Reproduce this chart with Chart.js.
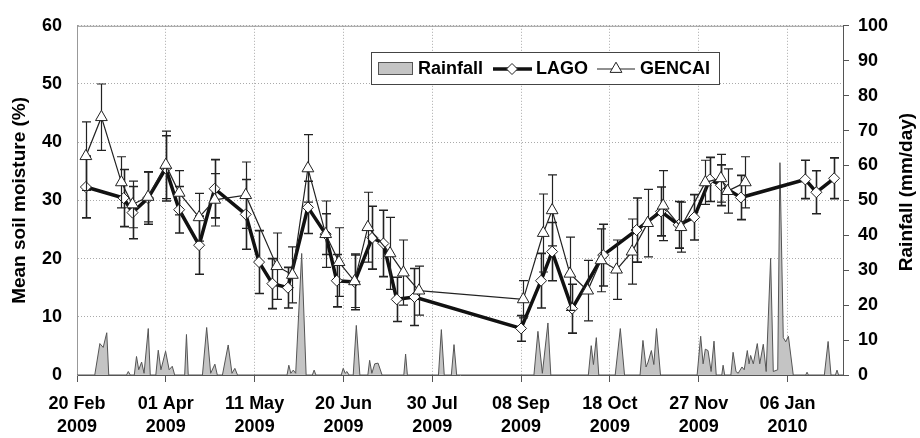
<!DOCTYPE html>
<html>
<head>
<meta charset="utf-8">
<script src="https://cdn.jsdelivr.net/npm/chart.js@4.4.0/dist/chart.umd.min.js"></script>
<style>
    html, body { margin: 0; padding: 0; background: #fff; }
    #wrap { width: 920px; height: 438px; position: relative; }
</style>
</head>
<body>
<div id="wrap"><canvas id="grafico"></canvas></div>
<script>
// dias contados desde el 20 Feb 2009, una etiqueta cada 40 dias
const etiquetasX = [['20 Feb', '2009'], ['01 Apr', '2009'], ['11 May', '2009'], ['20 Jun', '2009'],
    ['30 Jul', '2009'], ['08 Sep', '2009'], ['18 Oct', '2009'], ['27 Nov', '2009'], ['06 Jan', '2010']];

const lagoDias = [4, 21, 25, 32, 40, 46, 55, 62, 76, 82, 88, 95, 104, 112, 117, 125, 133, 138, 144, 152,
    200, 209, 214, 223, 237, 252, 263, 271, 278, 285, 290, 299, 328, 333, 341];
const lagoValores = [32.3, 30.4, 27.9, 30.4, 35.5, 28.4, 22.3, 32.0, 27.6, 19.4, 15.7, 15.0, 28.8, 24.2, 16.2, 16.0, 23.6, 22.6, 13.0, 13.4,
    8.0, 16.2, 21.2, 11.4, 20.6, 24.9, 28.1, 25.8, 27.1, 33.6, 32.6, 30.5, 33.6, 31.4, 33.8];
const lagoError = [5.3, 4.9, 4.5, 4.5, 5.6, 4.0, 5.0, 5.0, 6.0, 5.4, 4.3, 3.5, 4.5, 3.5, 4.5, 4.8, 5.4, 5.7, 3.8, 4.9,
    2.2, 4.7, 5.0, 4.2, 5.3, 5.5, 4.2, 4.0, 3.9, 3.8, 3.5, 3.8, 3.3, 3.7, 3.5];

const gencaiDias = [4, 11, 20, 25, 32, 40, 46, 55, 62, 76, 90, 97, 104, 112, 118, 125, 131, 141, 147, 154,
    201, 210, 214, 222, 230, 236, 243, 250, 257, 264, 272, 283, 290, 293, 301];
const gencaiValores = [37.6, 44.3, 33.1, 29.3, 30.6, 36.1, 31.3, 27.1, 30.1, 30.9, 18.7, 17.2, 35.5, 24.2, 19.4, 16.1, 25.4, 20.9, 17.6, 14.5,
    13.0, 24.4, 28.3, 17.4, 14.5, 19.7, 18.1, 21.2, 26.1, 29.1, 25.4, 33.1, 33.8, 31.6, 33.1];
const gencaiError = [5.9, 5.7, 4.4, 4.0, 4.3, 5.8, 3.8, 4.1, 4.5, 5.7, 5.7, 4.8, 5.8, 5.7, 5.9, 4.5, 6.0, 6.2, 5.6, 4.2,
    3.2, 6.7, 6.1, 6.3, 5.2, 5.4, 5.1, 5.6, 5.8, 6.0, 4.3, 3.8, 4.1, 3.8, 4.4];

// lluvia diaria [dia, mm/dia]
const lluvia = [[0, 0], [8, 0], [10.3, 9.0], [11.8, 7.9], [13.4, 12.1], [14.3, 0],
    [22.3, 0], [23.1, 1.0], [24, 0],
    [25.8, 0], [26.8, 5.3], [27.8, 1.5], [29.1, 3.7], [30.2, 0.5], [32.1, 13.3], [33, 0],
    [35.5, 0], [36.6, 7.1], [37.8, 1.5], [39.9, 6.8], [41.5, 1.5], [42.9, 2.5], [44, 0],
    [48.5, 0], [49.3, 11.6], [50.1, 0],
    [56.5, 0], [58.4, 13.6], [60.2, 0.5], [62.1, 3.1], [63.2, 0],
    [65.5, 0], [68.1, 8.6], [69.8, 0.5], [71.1, 1.9], [72.3, 0],
    [94.6, 0], [95.4, 2.8], [96.3, 0.5], [97.4, 1.4], [98.5, 0.5], [101.2, 34.8], [103.2, 0],
    [106, 0], [106.8, 1.4], [107.6, 0],
    [119, 0], [119.9, 1.9], [120.8, 0.5], [121.6, 1.0], [122.5, 0],
    [124.4, 0], [125.8, 14.2], [127.4, 0],
    [131, 0], [131.8, 4.2], [132.8, 0.5], [134.1, 3.2], [135.6, 3.4], [137.4, 0],
    [147.2, 0], [148, 6.0], [148.8, 0],
    [162.8, 0], [164.1, 13.0], [165.4, 0],
    [168.6, 0], [169.8, 8.7], [171, 0],
    [205.8, 0], [207.6, 12.5], [209.6, 0.5], [212.1, 14.9], [213.4, 0],
    [230.3, 0], [231.6, 8.4], [232.6, 3.0], [233.9, 10.7], [235, 0],
    [242.4, 0], [244.7, 13.3], [246.6, 0],
    [253.6, 0], [254.9, 9.9], [256.3, 2.3], [257.2, 3.7], [258.7, 7.0], [259.8, 3.0], [261, 13.3], [262.8, 0],
    [279.3, 0], [280.9, 11.1], [282, 3.2], [283, 7.4], [284.2, 7.0], [285.6, 1.0], [286.9, 9.7], [287.9, 0],
    [290.4, 0], [291, 2.8], [291.7, 0],
    [294.5, 0], [295.5, 6.5], [296.8, 1.0], [297.8, 0.5], [299.5, 2.3], [300.5, 1.5], [301.9, 7.0], [302.7, 3.2],
    [303.4, 5.6], [304.6, 3.2], [306.4, 9.0], [307.5, 3.2], [309.1, 8.8], [310.4, 1.0], [312.4, 33.4], [313.6, 1.0],
    [315.6, 1.5], [316.6, 60.8], [318.1, 10.7], [319.2, 9.5], [320.4, 11.1], [322.6, 0],
    [328.2, 0], [328.8, 0.8], [329.4, 0],
    [336.6, 0], [338.3, 9.6], [339.6, 0],
    [341.6, 0], [342.3, 1.4], [343, 0], [345, 0]];

const fuente = "'Liberation Sans', Arial, sans-serif";
const errores = { LAGO: lagoError, GENCAI: gencaiError };

function puntos(dias, valores) {
    return dias.map((d, i) => ({ x: d, y: valores[i] }));
}

// barras de error, dibujadas justo antes de cada serie
const barrasError = {
    id: 'barrasError',
    beforeDatasetDraw(chart, args) {
        let ds = chart.data.datasets[args.index];
        let err = errores[ds.label];
        if (!err) return;
        let sx = chart.scales.x, sy = chart.scales.y;
        let ctx = chart.ctx;
        ctx.save();
        ctx.strokeStyle = '#222';
        ctx.lineWidth = ds.label === 'LAGO' ? 1.6 : 1.2;
        ds.data.forEach((p, i) => {
            let px = Math.round(sx.getPixelForValue(p.x)) + 0.5;
            let arriba = sy.getPixelForValue(p.y + err[i]);
            let abajo = sy.getPixelForValue(p.y - err[i]);
            ctx.beginPath();
            ctx.moveTo(px, arriba); ctx.lineTo(px, abajo);
            ctx.moveTo(px - 4.5, arriba); ctx.lineTo(px + 4.5, arriba);
            ctx.moveTo(px - 4.5, abajo); ctx.lineTo(px + 4.5, abajo);
            ctx.stroke();
        });
        ctx.restore();
    }
};

// marco superior, titulo derecho y leyenda
const extras = {
    id: 'extras',
    beforeDatasetsDraw(chart) {
        let { ctx, chartArea } = chart;
        ctx.save();
        ctx.strokeStyle = '#999';
        ctx.lineWidth = 1;
        ctx.beginPath();
        ctx.moveTo(chartArea.left, chartArea.top + 0.5);
        ctx.lineTo(chartArea.right, chartArea.top + 0.5);
        ctx.stroke();
        ctx.restore();
    },
    afterDraw(chart) {
        let ctx = chart.ctx;
        ctx.save();
        ctx.fillStyle = '#000';
        ctx.font = 'bold 19px ' + fuente;
        ctx.textAlign = 'center';
        ctx.textBaseline = 'middle';
        ctx.translate(907, 192);
        ctx.rotate(-Math.PI / 2);
        ctx.fillText('Rainfall (mm/day)', 0, 0);
        ctx.restore();

        ctx.save();
        ctx.fillStyle = '#fff';
        ctx.strokeStyle = '#444';
        ctx.lineWidth = 1;
        ctx.fillRect(371, 52, 348, 32);
        ctx.strokeRect(371.5, 52.5, 348, 32);
        let yc = 69;
        // lluvia
        ctx.fillStyle = '#c4c4c4';
        ctx.fillRect(378, 62, 34, 12);
        ctx.strokeStyle = '#555';
        ctx.strokeRect(378.5, 62.5, 34, 12);
        // LAGO
        ctx.strokeStyle = '#111';
        ctx.lineWidth = 3.5;
        ctx.beginPath(); ctx.moveTo(493, yc); ctx.lineTo(532, yc); ctx.stroke();
        ctx.lineWidth = 1;
        ctx.fillStyle = '#fff';
        ctx.strokeStyle = '#222';
        ctx.beginPath();
        ctx.moveTo(512, yc - 5.5); ctx.lineTo(517.5, yc); ctx.lineTo(512, yc + 5.5); ctx.lineTo(506.5, yc);
        ctx.closePath(); ctx.fill(); ctx.stroke();
        // GENCAI
        ctx.lineWidth = 1.2;
        ctx.beginPath(); ctx.moveTo(597, yc); ctx.lineTo(635, yc); ctx.stroke();
        ctx.lineWidth = 1;
        ctx.beginPath();
        ctx.moveTo(616, yc - 6.8); ctx.lineTo(621.9, yc + 3.4); ctx.lineTo(610.1, yc + 3.4);
        ctx.closePath(); ctx.fill(); ctx.stroke();
        ctx.fillStyle = '#000';
        ctx.font = 'bold 18px ' + fuente;
        ctx.textBaseline = 'middle';
        ctx.fillText('Rainfall', 418, yc);
        ctx.fillText('LAGO', 536, yc);
        ctx.fillText('GENCAI', 640, yc);
        ctx.restore();
    }
};

const ctx = document.getElementById('grafico').getContext('2d');
const chart = new Chart(ctx, {
    type: 'line',
    data: {
        datasets: [
            {
                label: 'GENCAI',
                data: puntos(gencaiDias, gencaiValores),
                yAxisID: 'y',
                order: 1,
                borderColor: '#222',
                borderWidth: 1.2,
                pointStyle: 'triangle',
                pointRadius: 6.8,
                pointBackgroundColor: '#fff',
                pointBorderColor: '#222',
                pointBorderWidth: 1,
                tension: 0
            },
            {
                label: 'LAGO',
                data: puntos(lagoDias, lagoValores),
                yAxisID: 'y',
                order: 2,
                borderColor: '#111',
                borderWidth: 3.5,
                pointStyle: 'rectRot',
                pointRadius: 5.5,
                pointBackgroundColor: '#fff',
                pointBorderColor: '#222',
                pointBorderWidth: 1,
                tension: 0
            },
            {
                label: 'Rainfall',
                data: lluvia.map(p => ({ x: p[0], y: p[1] })),
                yAxisID: 'y2',
                order: 3,
                borderColor: '#555',
                borderWidth: 1,
                backgroundColor: '#c4c4c4',
                fill: 'origin',
                pointRadius: 0,
                tension: 0
            }
        ]
    },
    options: {
        responsive: true,
        maintainAspectRatio: false,
        animation: false,
        devicePixelRatio: 1,
        layout: { padding: { top: 16, left: 0, right: 0, bottom: 0 } },
        plugins: {
            legend: { display: false },
            tooltip: { enabled: false }
        },
        scales: {
            x: {
                type: 'linear',
                min: 0,
                max: 345,
                afterFit: s => { s.height = 63; },
                afterBuildTicks: s => { s.ticks = etiquetasX.map((e, i) => ({ value: i * 40 })); },
                ticks: {
                    autoSkip: false,
                    maxRotation: 0,
                    padding: 11,
                    color: '#000',
                    font: { family: fuente, size: 18, weight: 'bold', lineHeight: 1.25 },
                    callback: (v) => etiquetasX[Math.round(v / 40)]
                },
                grid: {
                    color: '#aaa',
                    lineWidth: 1,
                    drawTicks: true,
                    tickLength: 7,
                    tickColor: '#555',
                    tickBorderDash: []
                },
                border: { color: '#555', width: 1, dash: [1, 2] }
            },
            y: {
                position: 'left',
                min: 0,
                max: 60,
                afterFit: s => { s.width = 77; },
                ticks: {
                    stepSize: 10,
                    padding: 15,
                    color: '#000',
                    font: { family: fuente, size: 18, weight: 'bold' }
                },
                grid: {
                    color: '#aaa',
                    drawTicks: false
                },
                border: { color: '#999', width: 1, dash: [1, 2] },
                title: {
                    display: true,
                    text: 'Mean soil moisture (%)',
                    color: '#000',
                    padding: { top: 8, bottom: 0 },
                    font: { family: fuente, size: 19, weight: 'bold' }
                }
            },
            y2: {
                position: 'right',
                min: 0,
                max: 100,
                afterFit: s => { s.width = 77; },
                ticks: {
                    stepSize: 10,
                    padding: 9,
                    color: '#000',
                    font: { family: fuente, size: 18, weight: 'bold' }
                },
                grid: {
                    drawOnChartArea: false,
                    drawTicks: true,
                    tickLength: 6,
                    tickColor: '#555'
                },
                border: { color: '#555', width: 1 }
            }
        }
    },
    plugins: [barrasError, extras]
});
</script>
</body>
</html>
